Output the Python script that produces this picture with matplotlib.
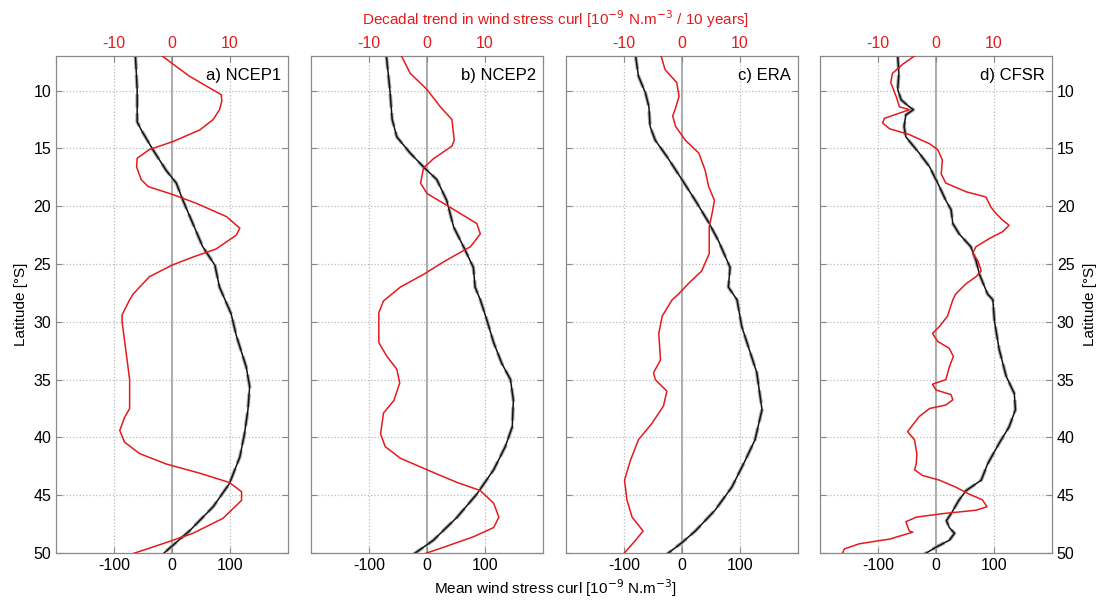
import numpy as np
import matplotlib
matplotlib.use('Agg')
import matplotlib.pyplot as plt

plt.rcParams['font.family'] = ['Liberation Sans', 'DejaVu Sans']
plt.rcParams['axes.unicode_minus'] = False

# ---- data ----
# trend (red, 10^-9 N m^-3 / 10 yr) and mean curl (black, 10^-9 N m^-3) vs latitude [deg S]
titles = ['a) NCEP1', 'b) NCEP2', 'c) ERA', 'd) CFSR']

lat_trend_a = [7.0, 8.75, 10.35, 10.9, 11.65, 12.5, 13.4, 14.4, 15.1, 15.85, 16.6, 17.7, 18.3, 19.0, 19.75,
               20.9, 21.9, 22.5, 23.7, 24.4, 25.1, 26.1, 27.6, 28.1, 29.4, 30.0, 35.0, 37.5, 38.3, 39.4,
               40.4, 41.4, 42.3, 43.1, 43.9, 44.7, 45.45, 47.0, 48.3, 49.2, 50.1]
trend_a = [-1.7, 3.0, 8.5, 8.6, 8.2, 7.1, 4.8, 0.2, -3.9, -6.0, -6.1, -5.3, -4.1, 0.2, 4.2,
           9.4, 11.7, 11.1, 7.6, 3.6, 0.0, -3.9, -6.7, -7.3, -8.6, -8.6, -7.3, -7.3, -8.2, -9.0,
           -8.2, -5.6, -1.0, 4.8, 9.9, 12.0, 12.0, 8.8, 3.6, -1.6, -7.0]
lat_mean_a = [7.0, 9.9, 12.7, 13.4, 15.1, 16.9, 18.0, 19.5, 21.5, 23.5, 25.1, 27.0, 29.3, 31.2, 33.9,
              35.6, 37.6, 39.7, 41.7, 44.0, 46.0, 48.1, 50.1]
mean_a = [-63, -60, -60, -53, -33, -10, 7.5, 19, 36, 53, 74, 82, 102, 111, 128,
          134, 131, 125, 117, 99, 71, 30, -16]

lat_trend_b = [7.0, 8.5, 9.9, 11.4, 12.5, 14.3, 14.8, 15.9, 16.7, 18.0, 18.9, 20.1, 21.5, 22.4, 23.5,
               24.8, 25.9, 27.0, 28.2, 29.2, 31.8, 33.0, 34.1, 35.3, 36.8, 37.9, 39.7, 40.8, 41.8,
               42.8, 43.9, 44.6, 45.7, 46.9, 47.8, 48.6, 49.5, 50.1]
trend_b = [-4.4, -2.9, 0.0, 2.3, 4.3, 4.7, 4.3, 1.1, -0.6, -1.1, 0.0, 4.0, 8.6, 9.2, 7.5,
           2.9, -0.6, -4.6, -7.5, -8.3, -8.3, -6.9, -5.2, -4.7, -5.7, -7.5, -8.0, -7.2, -4.6,
           0.0, 5.2, 9.2, 11.5, 12.4, 11.5, 8.0, 2.9, -0.6]
lat_mean_b = [7.0, 9.9, 12.5, 14.0, 15.4, 16.6, 17.7, 19.5, 21.8, 23.5, 25.3, 27.0, 28.1, 29.8, 31.8,
              33.6, 35.0, 36.8, 39.1, 40.8, 42.8, 44.9, 46.9, 48.9, 50.1]
mean_b = [-70, -64, -60, -52, -29, -6, 17, 34, 46, 63, 80, 83, 92, 103, 115,
          129, 144, 149, 147, 135, 115, 86, 52, 11, -23]

lat_trend_c = [7.0, 8.2, 9.3, 10.5, 11.5, 12.2, 13.1, 14.3, 15.4, 16.9, 18.3, 19.5, 20.6, 21.8, 24.1,
               25.6, 26.7, 27.6, 28.1, 29.5, 31.0, 33.3, 34.4, 35.0, 36.0, 37.3, 38.8, 40.2, 42.0,
               43.7, 45.4, 46.9, 48.1, 48.9, 50.1]
trend_c = [-3.6, -2.9, -0.9, -0.5, -1.1, -1.6, -1.1, 0.6, 2.9, 4.0, 4.6, 5.6, 5.2, 4.7, 4.7,
           3.4, 1.1, -0.6, -1.7, -3.4, -4.0, -3.7, -4.9, -4.6, -2.6, -3.2, -5.2, -7.5, -8.9,
           -9.9, -9.5, -8.6, -6.7, -8.0, -10.1]
lat_mean_c = [7.0, 8.75, 10.2, 11.4, 13.1, 14.3, 15.7, 17.7, 19.5, 21.4, 23.0, 25.3, 27.0, 28.1, 30.4,
              32.7, 34.4, 37.6, 40.2, 42.0, 44.3, 46.3, 48.1, 49.1, 50.1]
mean_c = [-80, -75, -63, -57, -55, -46, -26, 0, 23, 46, 63, 83, 80, 95, 103,
          118, 129, 138, 126, 109, 86, 57, 23, 0, -26]

lat_trend_d = [7.0, 7.7, 8.5, 9.3, 10.6, 11.4, 11.65, 12.4, 12.8, 13.3, 13.8, 14.6, 15.1, 16.0, 17.2,
               18.0, 18.75, 19.2, 20.1, 20.6, 21.2, 21.65, 22.2, 22.8, 23.5, 24.1, 24.7, 25.6, 26.1,
               26.7, 27.6, 28.1, 29.5, 30.4, 31.0, 31.7, 32.3, 33.0, 33.9, 35.0, 35.4, 35.9, 36.3,
               36.75, 37.2, 37.5, 38.2, 39.5, 40.2, 41.4, 42.3, 42.8, 43.3, 43.7, 44.3, 44.9, 45.4,
               46.0, 46.3, 46.6, 46.9, 47.3, 48.1, 48.2, 48.8, 49.2, 49.65, 50.1]
trend_d = [-3.7, -5.7, -7.5, -7.8, -6.8, -6.3, -4.6, -8.9, -9.2, -8.0, -4.6, -1.1, 0.3, 1.1, 0.9,
           1.7, 5.2, 8.6, 9.5, 10.3, 11.5, 12.6, 11.5, 9.2, 6.9, 6.3, 7.2, 7.8, 6.9,
           5.2, 3.4, 2.9, 2.0, 0.6, -0.6, 0.3, 2.3, 3.0, 2.3, 1.7, -0.6, 0.0, 2.6,
           2.9, 1.7, -1.1, -2.9, -4.9, -3.7, -3.3, -3.4, -3.7, -2.3, 0.6, 3.4, 5.7, 8.0,
           8.8, 6.9, 1.1, -3.4, -5.2, -4.6, -4.0, -8.0, -13.2, -15.8, -16.2]
lat_mean_d = [7.0, 8.5, 9.9, 10.8, 11.4, 11.65, 12.1, 13.1, 14.0, 15.4, 16.6, 18.0, 19.5, 20.3, 21.5,
              22.4, 23.5, 24.7, 25.9, 27.6, 28.1, 30.0, 32.4, 34.7, 36.2, 37.6, 39.1, 40.5, 42.3,
              43.7, 44.6, 45.4, 46.6, 47.2, 47.8, 48.3, 48.9, 49.5, 50.1]
mean_d = [-66, -64, -66, -60, -46, -39, -52, -55, -52, -29, -11, 3, 17, 26, 29,
          40, 60, 69, 75, 89, 98, 101, 109, 121, 135, 137, 126, 109, 89,
          78, 52, 40, 26, 18, 23, 32, 23, 0, -20]

lat_trends = [lat_trend_a, lat_trend_b, lat_trend_c, lat_trend_d]
trends = [trend_a, trend_b, trend_c, trend_d]
lat_means = [lat_mean_a, lat_mean_b, lat_mean_c, lat_mean_d]
means = [mean_a, mean_b, mean_c, mean_d]

fig = plt.figure(figsize=(11.02, 6.01), dpi=100)
lefts = [0.0508, 0.2822, 0.5136, 0.7441]
bottom, width, height = 0.0799, 0.2105, 0.8270
gcol = '#888888'
red = '#e41a1c'

for i in range(4):
    ax = fig.add_axes([lefts[i], bottom, width, height])
    ax.set_xlim(-200, 200)
    ax.set_ylim(50, 7)
    ax.set_xticks([-100, 0, 100])
    ax.set_yticks(np.arange(10, 51, 5))
    ax.grid(True, color='#bbbbbb', linestyle=':', linewidth=0.9)
    ax.axvline(0, color='#999999', linewidth=1.2, zorder=1)
    # spread of members (gray halo) and mean (black)
    ax.plot(means[i], lat_means[i], color='#aaaaaa', linewidth=2.6, linestyle='--', zorder=2)
    ax.plot(means[i], lat_means[i], color='#111111', linewidth=1.1, zorder=3)
    ax.tick_params(direction='in', length=4, color=gcol, labelsize=11.5, top=False,
                   left=True, right=True, labelleft=(i == 0), labelright=(i == 3))
    for s in ax.spines.values():
        s.set_color(gcol)
    ax.text(0.97, 0.975, titles[i], transform=ax.transAxes, ha='right', va='top', fontsize=12)

    axt = ax.twiny()
    axt.set_xlim(-20, 20)
    axt.set_xticks([-10, 0, 10])
    axt.plot(trends[i], lat_trends[i], color=red, linewidth=1.1, zorder=4)
    axt.tick_params(direction='in', length=4, color=gcol, labelsize=11.5, labelcolor=red)
    for s in axt.spines.values():
        s.set_color(gcol)
    if i == 0:
        ax.set_ylabel('Latitude [°S]', fontsize=11, labelpad=4)
    if i == 3:
        ax.yaxis.set_label_position('right')
        ax.set_ylabel('Latitude [°S]', fontsize=11, labelpad=6, rotation=90)

fig.text(0.504, 0.022, 'Mean wind stress curl [10$^{-9}$ N.m$^{-3}$]', ha='center', va='center', fontsize=11)
fig.text(0.504, 0.968, 'Decadal trend in wind stress curl [10$^{-9}$ N.m$^{-3}$ / 10 years]',
         ha='center', va='center', fontsize=11, color=red)

fig.savefig('out.png', dpi=100)
